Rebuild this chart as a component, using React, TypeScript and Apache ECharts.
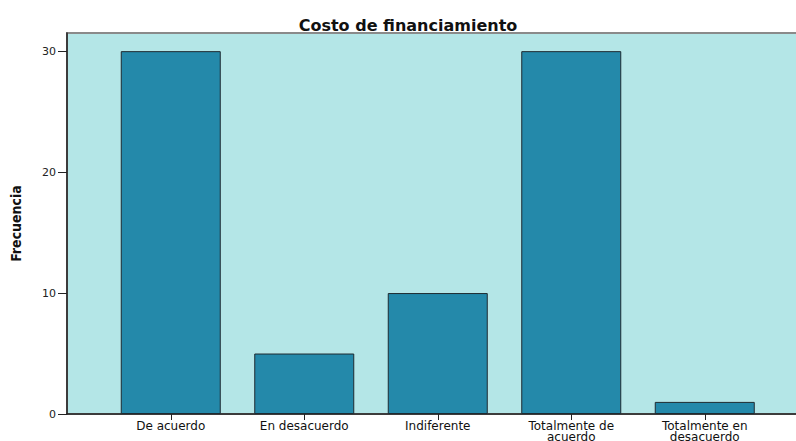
import React, { useEffect, useRef } from "react";
import * as echarts from "echarts";

const categories = [
  "De acuerdo",
  "En desacuerdo",
  "Indiferente",
  "Totalmente de\nacuerdo",
  "Totalmente en\ndesacuerdo",
];
const frequencies = [30, 5, 10, 30, 1];
const yTicks = [0, 10, 20, 30];

export default function App() {
  const ref = useRef<HTMLDivElement>(null);
  useEffect(() => {
    if (!ref.current) return;
    const chart = echarts.init(ref.current, undefined, { renderer: "svg" });
    const gridTop = 33;
    const gridBottom = 27;
    chart.setOption({
      animation: false,
      backgroundColor: "#ffffff",
      title: {
        text: "Costo de financiamiento",
        left: 403,
        top: 12,
        textAlign: "center",
        textStyle: {
          fontFamily: "DejaVu Sans, sans-serif",
          fontWeight: "bold",
          fontSize: 16,
          color: "#111",
        },
      },
      grid: [
        {
          left: 67,
          right: -6,
          top: gridTop,
          bottom: gridBottom,
          show: true,
          outerBoundsMode: "none",
          containLabel: false,
          backgroundColor: "#b4e6e7",
          borderColor: "#8a8a8a",
          borderWidth: 2,
        },
        {
          left: 104,
          width: 667.5,
          top: gridTop,
          bottom: gridBottom,
          outerBoundsMode: "none",
          containLabel: false,
        },
      ],
      xAxis: [
        {
          type: "value",
          gridIndex: 0,
          min: 0,
          max: 1,
          axisLine: { show: true, onZero: false, lineStyle: { color: "#222", width: 1.5 } },
          axisTick: { show: false },
          axisLabel: { show: false },
          splitLine: { show: false },
        },
        {
          type: "category",
          gridIndex: 1,
          data: categories,
          axisLine: { show: false },
          axisTick: { show: true, alignWithLabel: true, length: 6, lineStyle: { color: "#222" } },
          axisLabel: {
            interval: 0,
            margin: 6,
            fontFamily: "DejaVu Sans, sans-serif",
            fontSize: 12,
            lineHeight: 11,
            color: "#111",
          },
          splitLine: { show: false },
        },
      ],
      yAxis: [
        {
          type: "value",
          gridIndex: 0,
          min: 0,
          max: 31.5,
          interval: 10,
          name: "Frecuencia",
          nameLocation: "middle",
          nameGap: 44,
          nameTextStyle: {
            fontFamily: "DejaVu Sans Condensed, Liberation Sans Narrow, sans-serif",
            fontWeight: "bold",
            fontSize: 14,
            color: "#111",
          },
          axisLine: { show: true, lineStyle: { color: "#222", width: 1.5 } },
          axisTick: { show: true, length: 9, customValues: yTicks, lineStyle: { color: "#222" } },
          axisLabel: {
            customValues: yTicks,
            margin: 11,
            fontFamily: "DejaVu Sans, sans-serif",
            fontSize: 11,
            color: "#222",
          },
          splitLine: { show: false },
        },
        {
          type: "value",
          gridIndex: 1,
          min: 0,
          max: 31.5,
          show: false,
          splitLine: { show: false },
        },
      ],
      series: [
        {
          type: "bar",
          xAxisIndex: 1,
          yAxisIndex: 1,
          data: frequencies,
          barWidth: 100,
          itemStyle: {
            color: "#2489aa",
            borderColor: "#1e2a30",
            borderWidth: 1,
          },
        },
      ],
    });
    return () => chart.dispose();
  }, []);
  return (
    <div
      ref={ref}
      style={{ position: "fixed", left: 0, top: 0, width: 796, height: 441 }}
    />
  );
}
